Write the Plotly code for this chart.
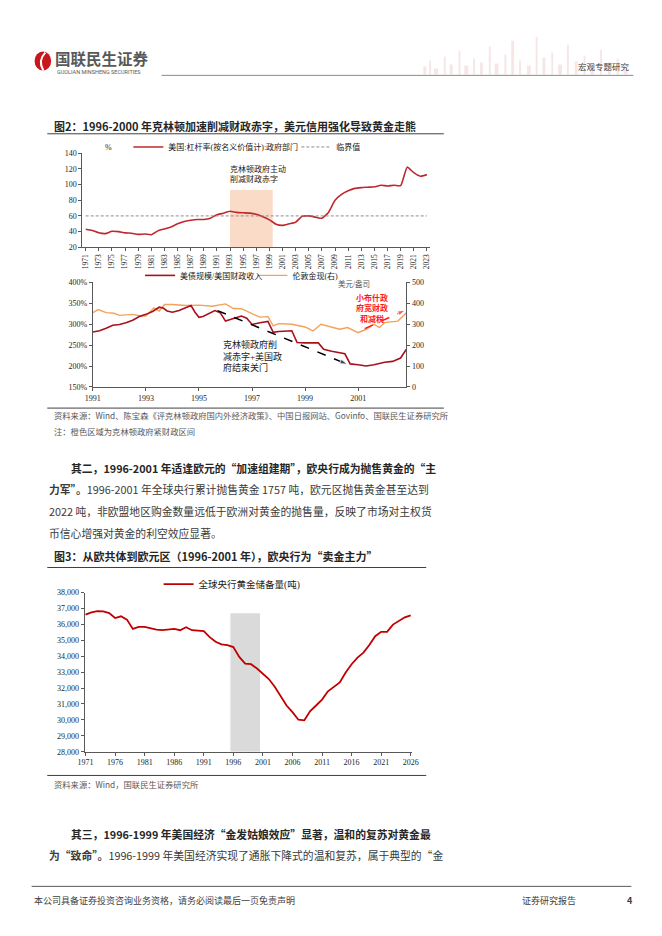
import plotly.graph_objects as go

# page is 662x936; the browser adds an 8px body margin, so the figure is drawn 16px smaller
PAGE_OFF = 8
W, H = 662 - 2 * PAGE_OFF, 936 - 2 * PAGE_OFF
CJK = "Noto Sans CJK SC"
SERIF = "Liberation Serif, Noto Sans CJK SC"


def px(x):
    return (x - PAGE_OFF) / W


def py(y):
    return 1 - (y - PAGE_OFF) / H


# ---------- 图2 上：美国政府杠杆率 ----------
lev_years = list(range(1971, 2024))
lev_values = [43, 41.5, 38.5, 37.5, 40.5, 40, 38.5, 38, 36.5, 37,
              36, 41, 43.5, 46, 50, 53, 54.5, 55.5, 55.5, 57,
              61.5, 63.5, 66, 64.5, 64, 63.5, 62, 59, 55, 49.5,
              48, 50, 52, 59.5, 60, 58.5, 57, 64.5, 80, 87.5,
              92, 95, 96, 96.5, 97, 99, 98, 99, 98.5, 122,
              115, 110.5, 112.5]
threshold = 60
clinton_span = [1993, 1999.5]
clinton_top = 93

# ---------- 图2 下：美债规模/财政收入 与 伦敦金现 ----------
debt_x = [1991.0, 1991.25, 1991.5, 1991.75, 1992.0, 1992.25, 1992.5, 1992.75,
          1993.0, 1993.25, 1993.5, 1993.65, 1993.8, 1994.0, 1994.25, 1994.5,
          1994.7, 1994.85, 1995.0, 1995.15, 1995.3, 1995.6, 1995.8, 1996.0,
          1996.3, 1996.6, 1996.8, 1997.0, 1997.3, 1997.6, 1997.8, 1998.0,
          1998.5, 1998.7, 1999.0, 1999.5, 1999.7, 2000.0, 2000.5, 2000.7,
          2001.0, 2001.3, 2001.6, 2002.0, 2002.3, 2002.6, 2002.82]
debt_ratio = [281, 284, 290, 297, 299, 303, 309, 318,
              323, 330, 340, 338, 331, 328, 332, 339,
              344, 328, 316, 318, 323, 332, 327, 307,
              313, 319, 314, 299, 303, 306, 280, 282,
              284, 256, 255, 255, 240, 235, 229, 205,
              203, 200, 203, 209, 211, 219, 240]
gold_x = [1991.0, 1991.2, 1991.5, 1991.8, 1992.0, 1992.5, 1992.8, 1993.0,
          1993.3, 1993.5, 1993.7, 1994.0, 1994.5, 1995.0, 1995.5, 1996.0,
          1996.3, 1996.6, 1997.0, 1997.3, 1997.6, 1997.8, 1998.0, 1998.5,
          1999.0, 1999.3, 1999.6, 2000.0, 2000.3, 2000.6, 2000.9, 2001.0,
          2001.3, 2001.6, 2001.8, 2002.0, 2002.5, 2002.82]
gold_price = [354, 369, 354, 351, 341, 346, 338, 338,
              377, 362, 393, 393, 388, 390, 385, 396,
              374, 373, 349, 333, 335, 291, 302, 299,
              286, 267, 299, 286, 275, 283, 264, 259,
              275, 299, 283, 307, 314, 354]
arrow_clinton_x = [1995.7, 2000.6]
arrow_clinton_y = [332, 204]
arrow_bush_x = [2001.25, 2002.78]
arrow_bush_y = [289, 333]

# ---------- 图3：全球央行黄金储备 ----------
res_years = list(range(1971, 2027))
res_values = [36610, 36755, 36838, 36817, 36714, 36402, 36506, 36300, 35717, 35842,
              35842, 35738, 35676, 35634, 35676, 35717, 35634, 35821, 35634, 35613,
              35572, 35199, 34908, 34742, 34700, 34576, 33954, 33539, 33497, 33228,
              32916, 32564, 32086, 31526, 30904, 30488, 30011, 29970, 30550, 30904,
              31277, 31796, 32086, 32356, 32979, 33497, 33912, 34223, 34700, 35261,
              35530, 35530, 35987, 36236, 36444, 36568]
euro_span = [1995.5, 2000.5]
euro_top = 36700

fig = go.Figure()

fig.add_trace(go.Scatter(
    x=lev_years, y=lev_values, mode="lines", xaxis="x", yaxis="y",
    line=dict(color="#C0282E", width=1.6, shape="spline", smoothing=0.5),
    name="美国:杠杆率(按名义价值计):政府部门", legend="legend"))
fig.add_trace(go.Scatter(
    x=lev_years, y=[threshold] * len(lev_years), mode="lines", xaxis="x", yaxis="y",
    line=dict(color="#8C8C8C", width=1, dash="3px,2px"),
    name="临界值", legend="legend2"))

fig.add_trace(go.Scatter(
    x=gold_x, y=gold_price, mode="lines", xaxis="x2", yaxis="y2",
    line=dict(color="#F3A25A", width=1.4),
    name="伦敦金现(右)", legend="legend4"))
fig.add_trace(go.Scatter(
    x=debt_x, y=debt_ratio, mode="lines", xaxis="x2", yaxis="y3",
    line=dict(color="#A8101C", width=1.6),
    name="美债规模/美国财政收入", legend="legend3"))
fig.add_trace(go.Scatter(
    x=arrow_clinton_x, y=arrow_clinton_y, mode="lines+markers", xaxis="x2", yaxis="y3",
    line=dict(color="black", width=1.5, dash="dash"),
    marker=dict(symbol="arrow", size=[0, 8], angleref="previous", color="black"),
    showlegend=False, hoverinfo="skip"))
fig.add_trace(go.Scatter(
    x=arrow_bush_x, y=arrow_bush_y, mode="lines+markers", xaxis="x2", yaxis="y3",
    line=dict(color="#FF1A1A", width=1.5, dash="dash"),
    marker=dict(symbol="arrow", size=[0, 8], angleref="previous", color="#FF1A1A"),
    showlegend=False, hoverinfo="skip"))

fig.add_trace(go.Scatter(
    x=res_years, y=res_values, mode="lines", xaxis="x3", yaxis="y4",
    line=dict(color="#C00000", width=1.8),
    name="全球央行黄金储备量(吨)", legend="legend5"))

axis_style = dict(showline=True, linecolor="#595959", linewidth=1, ticks="outside",
                  ticklen=3, tickcolor="#595959", showgrid=False, zeroline=False,
                  tickfont=dict(family=SERIF, size=8, color="#262626"))


def leg(x, y, size=8):
    return dict(x=px(x), y=py(y), xanchor="left", yanchor="middle", orientation="h",
                bgcolor="rgba(0,0,0,0)", itemwidth=30,
                font=dict(family=SERIF, size=size, color="#1a1a1a"))


shapes = [
    dict(type="rect", xref="x", yref="y", x0=clinton_span[0], x1=clinton_span[1],
         y0=20, y1=clinton_top, fillcolor="#FADBC8", line_width=0, layer="below"),
    dict(type="rect", xref="x3", yref="y4", x0=euro_span[0], x1=euro_span[1],
         y0=28000, y1=euro_top, fillcolor="#DADADA", line_width=0, layer="below"),
]


def hline(y, x0, x1, color="#404040", width=1):
    shapes.append(dict(type="line", xref="paper", yref="paper", x0=px(x0), x1=px(x1),
                       y0=py(y), y1=py(y), line=dict(color=color, width=width)))


hline(72, 157, 640, "#8a8a8a", 1)
hline(131, 40, 446)
hline(408, 40, 446)
hline(569, 40, 428)
hline(779, 40, 428)
hline(891, 24, 638, "#595959", 1)

# 页眉：淡色天际线装饰与标志
skyline = [(425, 3, 8), (431, 2, 14), (436, 4, 6), (446, 2, 18), (452, 3, 10),
           (461, 2, 24), (467, 4, 9), (476, 2, 16), (483, 3, 12), (492, 2, 28),
           (498, 4, 11), (508, 2, 20), (515, 3, 34), (523, 2, 14), (531, 4, 9),
           (540, 2, 38), (547, 3, 17), (556, 2, 22), (563, 4, 10), (572, 2, 30),
           (580, 3, 13), (589, 2, 19), (596, 4, 9), (606, 2, 25), (614, 3, 12),
           (623, 2, 16), (630, 4, 8)]
for bx, bw, bh in skyline:
    shapes.append(dict(type="rect", xref="paper", yref="paper", x0=px(bx), x1=px(bx + bw),
                       y0=py(71), y1=py(71 - bh), fillcolor="#F7E6E6", line_width=0,
                       layer="below"))
shapes.append(dict(type="circle", xref="paper", yref="paper", x0=px(27), x1=px(44),
                   y0=py(67), y1=py(48), fillcolor="#C8161D", line_width=0))
shapes.append(dict(type="path", xref="paper", yref="paper",
                   path=f"M {px(38)} {py(49)} Q {px(30)} {py(57)} {px(36)} {py(67)}",
                   line=dict(color="white", width=2)))


def note(x, y, text, size=9, color="#262626", anchor="left", family=CJK):
    return dict(x=px(x), y=py(y), xref="paper", yref="paper", text=text, showarrow=False,
                xanchor=anchor, yanchor="middle", align=anchor,
                font=dict(family=family, size=size, color=color))


body = "#3a3a3a"
PARA = 10.8
annotations = [
    note(46, 54.5, "<b>国联民生证券</b>", 15.5, "#595959"),
    note(48, 69, "GUOLIAN MINSHENG SECURITIES", 5.5, "#595959", family="Roboto"),
    note(639, 63, "宏观专题研究", 8.5, "#404040", anchor="right"),
    note(45, 123, "<b>图2：1996-2000 年克林顿加速削减财政赤字，美元信用强化导致黄金走熊</b>", 11, "#262626"),
    note(97, 145, "%", 8, family=SERIF),
    note(225, 172, "克林顿政府主动<br>削减财政赤字", 8, "#1a1a1a", family=SERIF),
    note(354, 283, "美元/盎司", 7.5, "#555555", anchor="center", family=SERIF),
    note(218, 355, "克林顿政府削<br>减赤字+美国政<br>府结束关门", 9, "#1a1a1a", family=SERIF),
    note(372, 307, "<b>小布什政<br>府宽财政<br>和减税</b>", 8, "#FF1A1A", anchor="center", family=SERIF),
    note(45, 415, "资料来源：Wind、陈宝森《评克林顿政府国内外经济政策》、中国日报网站、Govinfo、国联民生证券研究所", 8.3, "#595959"),
    note(45, 431, "注：橙色区域为克林顿政府紧财政区间", 8.3, "#595959"),
    note(62, 468, "<b>其二，1996-2001 年适逢欧元的“加速组建期”，欧央行成为抛售黄金的“主</b>", PARA, "#262626"),
    note(40, 490, "<b>力军”。</b>1996-2001 年全球央行累计抛售黄金 1757 吨，欧元区抛售黄金甚至达到", PARA, body),
    note(40, 512, "2022 吨，非欧盟地区购金数量远低于欧洲对黄金的抛售量，反映了市场对主权货", PARA, body),
    note(40, 534, "币信心增强对黄金的利空效应显著。", PARA, body),
    note(45, 557, "<b>图3：从欧共体到欧元区（1996-2001 年），欧央行为“卖金主力”</b>", 11, "#262626"),
    note(45, 788, "资料来源：Wind，国联民生证券研究所", 8.3, "#595959"),
    note(62, 838, "<b>其三，1996-1999 年美国经济“金发姑娘效应”显著，温和的复苏对黄金最</b>", PARA, "#262626"),
    note(40, 859, "<b>为“致命”。</b>1996-1999 年美国经济实现了通胀下降式的温和复苏，属于典型的“金", PARA, body),
    note(24, 905, "本公司具备证券投资咨询业务资格，请务必阅读最后一页免责声明", 9, "#404040"),
    note(524, 905, "证券研究报告", 9, "#404040"),
    note(637, 905, "<b>4</b>", 9, "#404040", anchor="center"),
]

fig.update_layout(
    width=W, height=H, margin=dict(l=0, r=0, t=0, b=0),
    paper_bgcolor="white", plot_bgcolor="rgba(0,0,0,0)",
    xaxis=dict(domain=[px(76), px(432)], range=[1970.5, 2023.5],
               tickvals=list(range(1971, 2024, 2)), tickangle=-90, anchor="y",
               **{**axis_style, "tickfont": dict(family=SERIF, size=7.5, color="#262626")}),
    yaxis=dict(domain=[py(245.7), py(150)], range=[20, 140.5],
               tickvals=list(range(20, 141, 20)), anchor="x", **axis_style),
    xaxis2=dict(domain=[px(86.7), px(407.7)], range=[1991, 2002.82],
                tickvals=list(range(1991, 2002, 2)), anchor="y2", **axis_style),
    yaxis2=dict(domain=[py(386.7), py(280.7)], range=[0, 500], dtick=100, side="right",
                anchor="x2", **axis_style),
    yaxis3=dict(range=[150, 400], dtick=50, ticksuffix="%", side="left", overlaying="y2",
                anchor="x2", **axis_style),
    xaxis3=dict(domain=[px(78.3), px(413)], range=[1970.85, 2026.15],
                tickvals=list(range(1971, 2027, 5)), anchor="y4", **axis_style),
    yaxis4=dict(domain=[py(755), py(594.3)], range=[28000, 38000], dtick=1000,
                tickformat=",", anchor="x3", **axis_style),
    legend=leg(123, 144.3),
    legend2=leg(295, 144.3),
    legend3=leg(135, 274),
    legend4=leg(250, 274),
    legend5=leg(154, 585.7, 9.5),
    shapes=shapes,
    annotations=annotations,
)

fig.write_html("out.html")
